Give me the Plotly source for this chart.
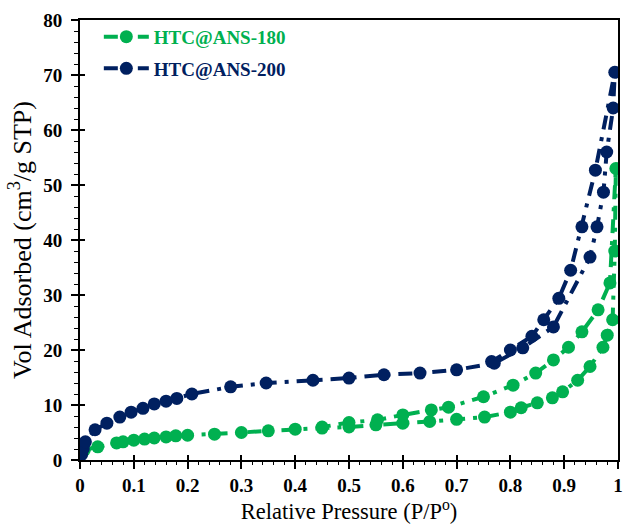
import plotly.graph_objects as go

# HTC@ANS-180 (adsorption then desorption)
x180 = [0.002, 0.008, 0.033, 0.068, 0.08, 0.10, 0.12, 0.138, 0.16, 0.178, 0.20, 0.25, 0.30, 0.35, 0.40,
        0.45, 0.50, 0.55, 0.60, 0.65, 0.70, 0.752, 0.80, 0.82, 0.85, 0.878, 0.897, 0.925, 0.948, 0.972,
        0.98, 0.99, 0.994, 0.996,
        0.985, 0.963, 0.933, 0.908, 0.88, 0.847, 0.805, 0.75, 0.685, 0.653, 0.60, 0.553, 0.50, 0.45]
y180 = [1.0, 1.8, 2.4, 3.1, 3.3, 3.6, 3.8, 4.0, 4.2, 4.4, 4.5, 4.7, 5.0, 5.3, 5.6,
        5.8, 6.0, 6.4, 6.7, 7.0, 7.4, 7.8, 8.7, 9.5, 10.4, 11.3, 12.4, 14.5, 17.0, 20.5,
        22.7, 25.5, 38.0, 53.0,
        32.2, 27.3, 23.3, 20.5, 18.2, 15.8, 13.6, 11.5, 9.6, 9.1, 8.2, 7.3, 6.8, 6.0]

# HTC@ANS-200 (adsorption then desorption)
x200 = [0.003, 0.006, 0.01, 0.028, 0.05, 0.074, 0.095, 0.117, 0.138, 0.16, 0.18, 0.208, 0.28, 0.346,
        0.433, 0.50, 0.565, 0.632, 0.70, 0.77, 0.823, 0.88, 0.948, 0.961, 0.973, 0.979, 0.991, 0.994,
        0.958, 0.933, 0.912, 0.89, 0.862, 0.84, 0.80, 0.765]
y200 = [1.0, 2.0, 3.3, 5.5, 6.7, 7.8, 8.7, 9.4, 10.2, 10.7, 11.2, 12.0, 13.3, 14.0,
        14.5, 14.9, 15.5, 15.8, 16.4, 17.6, 20.4, 24.2, 36.9, 42.4, 48.7, 56.0, 64.0, 70.5,
        52.7, 42.4, 34.5, 29.4, 25.5, 22.5, 20.0, 17.9]

names = ["HTC@ANS-180", "HTC@ANS-200"]
colors = ["#00B050", "#002060"]
xs = [x180, x200]
ys = [y180, y200]

FONT = "Liberation Serif, Times New Roman, serif"

fig = go.Figure()
for n, c, xx, yy in zip(names, colors, xs, ys):
    fig.add_trace(go.Scatter(
        x=xx, y=yy, mode="lines+markers", legendgroup=n,
        name=f"<b><span style='color:{c}'>{n}</span></b>",
        line=dict(color=c, width=4, dash="14px,8px,4px,8px"),
        marker=dict(color=c, size=13, symbol="circle"),
    ))

# overlay axis to create inward part of major ticks
fig.add_trace(go.Scatter(x=[None], y=[None], xaxis="x2", yaxis="y2", showlegend=False))

axis_common = dict(showline=True, linecolor="black", linewidth=2, showgrid=False, zeroline=False,
                   ticks="outside", ticklen=7, tickwidth=1.5, tickcolor="black",
                   tickfont=dict(family=FONT, size=19, color="black", weight="bold"))

fig.update_layout(
    width=628, height=524,
    margin=dict(l=80, r=5, t=20, b=64),
    paper_bgcolor="white", plot_bgcolor="white",
    font=dict(family=FONT, color="black"),
    xaxis=dict(range=[0, 1], dtick=0.1, tickformat="~g", mirror=True,
               minor=dict(dtick=0.02, ticks="outside", ticklen=3, tickwidth=1, tickcolor="black"),
               title=dict(text="Relative Pressure (P/P<sup>o</sup>)", font=dict(family=FONT, size=22.5),
                          standoff=5),
               **axis_common),
    yaxis=dict(range=[0, 80], dtick=10, mirror=True, ticklabelstandoff=5,
               minor=dict(dtick=2, ticks="outside", ticklen=4, tickwidth=1, tickcolor="black"),
               title=dict(text="Vol Adsorbed (cm<sup>3</sup>/g STP)", font=dict(family=FONT, size=26),
                          standoff=4),
               **axis_common),
    xaxis2=dict(range=[0, 1], dtick=0.1, overlaying="x", ticks="inside", ticklen=5, tickwidth=1.5,
                tickcolor="black", showticklabels=False, showgrid=False, zeroline=False, showline=False,
                anchor="y2", side="bottom"),
    yaxis2=dict(range=[0, 80], dtick=10, overlaying="y", ticks="inside", ticklen=5, tickwidth=1.5,
                tickcolor="black", showticklabels=False, showgrid=False, zeroline=False, showline=False,
                anchor="x2", side="left"),
    legend=dict(x=0.035, y=1.005, xanchor="left", yanchor="top", bgcolor="rgba(0,0,0,0)",
                font=dict(family=FONT, size=19), tracegroupgap=4, itemwidth=45),
    showlegend=True,
)

fig.write_html("out.html")
